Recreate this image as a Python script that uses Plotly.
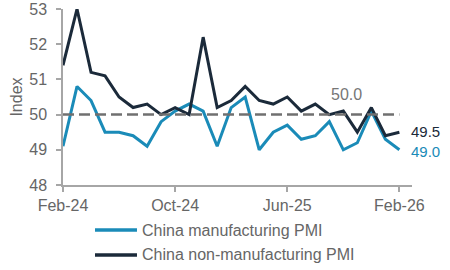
import plotly.graph_objects as go

months = ["Feb-24","Mar-24","Apr-24","May-24","Jun-24","Jul-24","Aug-24","Sep-24","Oct-24","Nov-24","Dec-24",
          "Jan-25","Feb-25","Mar-25","Apr-25","May-25","Jun-25","Jul-25","Aug-25","Sep-25","Oct-25","Nov-25","Dec-25",
          "Jan-26","Feb-26"]
manufacturing = [49.1, 50.8, 50.4, 49.5, 49.5, 49.4, 49.1, 49.8, 50.1, 50.3, 50.1,
                 49.1, 50.2, 50.5, 49.0, 49.5, 49.7, 49.3, 49.4, 49.8, 49.0, 49.2, 50.1,
                 49.3, 49.0]
non_manufacturing = [51.4, 53.0, 51.2, 51.1, 50.5, 50.2, 50.3, 50.0, 50.2, 50.0, 52.2,
                     50.2, 50.4, 50.8, 50.4, 50.3, 50.5, 50.1, 50.3, 50.0, 50.1, 49.5, 50.2,
                     49.4, 49.5]
tick_labels = ["Feb-24", "Oct-24", "Jun-25", "Feb-26"]
series_names = ["China manufacturing PMI", "China non-manufacturing PMI"]
threshold = 50.0

x = list(range(len(months)))
tick_idx = [months.index(t) for t in tick_labels]

BLUE = "#1a8bb8"
DARK = "#1b2a3a"
GRAY = "#666666"
AX = "#a6a6a6"
FONT = "Liberation Sans, Arial, sans-serif"

fig = go.Figure()
fig.add_trace(go.Scatter(x=x, y=manufacturing, mode="lines", name=series_names[0],
                         line=dict(color=BLUE, width=3)))
fig.add_trace(go.Scatter(x=x, y=non_manufacturing, mode="lines", name=series_names[1],
                         line=dict(color=DARK, width=3)))
fig.add_trace(go.Scatter(x=[x[0], x[-1]], y=[threshold, threshold], mode="lines", showlegend=False,
                         line=dict(color="#707070", width=2.5, dash="11px,5px"), hoverinfo="skip"))

fig.add_annotation(x=20.2, y=50.56, text=f"{threshold:.1f}", showarrow=False,
                   font=dict(color="#767676", size=16, family=FONT))
fig.add_annotation(x=x[-1], y=non_manufacturing[-1], text=f"{non_manufacturing[-1]:.1f}", showarrow=False,
                   xanchor="left", xshift=10, yshift=1, font=dict(color=DARK, size=15, family=FONT))
fig.add_annotation(x=x[-1], y=manufacturing[-1], text=f"{manufacturing[-1]:.1f}", showarrow=False,
                   xanchor="left", xshift=10, yshift=-2, font=dict(color=BLUE, size=15, family=FONT))

# manual legend below the plot (paper coordinates)
legend_rows = [(series_names[0], BLUE, -0.2557), (series_names[1], DARK, -0.3977)]
for name, color, ly in legend_rows:
    fig.add_shape(type="line", xref="paper", yref="paper", x0=0.0917, x1=0.212, y0=ly, y1=ly,
                  line=dict(color=color, width=3.5))
    fig.add_annotation(xref="paper", yref="paper", x=0.2206, y=ly, text=name, showarrow=False,
                       xanchor="left", yanchor="middle", font=dict(size=16, color=GRAY, family=FONT))

fig.update_layout(
    width=450, height=270,
    margin=dict(l=63, r=38, t=9, b=85),
    paper_bgcolor="white", plot_bgcolor="white",
    font=dict(family=FONT, size=16, color=GRAY),
    showlegend=False,
    xaxis=dict(range=[0, 24.9], tickvals=tick_idx, ticktext=tick_labels, showgrid=False,
               zeroline=False, showline=True, linecolor=AX, linewidth=1.5,
               ticks="outside", ticklen=5, tickcolor=AX, tickwidth=1.5, automargin=False,
               tickfont=dict(size=16, color=GRAY)),
    yaxis=dict(range=[48, 53], dtick=1, showgrid=False, zeroline=False, showline=True,
               linecolor=AX, linewidth=1.5, ticks="outside", ticklen=5,
               tickcolor=AX, tickwidth=1.5, ticklabelstandoff=6, automargin=False,
               tickfont=dict(size=16, color=GRAY),
               title=dict(text="Index", font=dict(size=16, color=GRAY), standoff=3)),
)

fig.write_html("out.html")
